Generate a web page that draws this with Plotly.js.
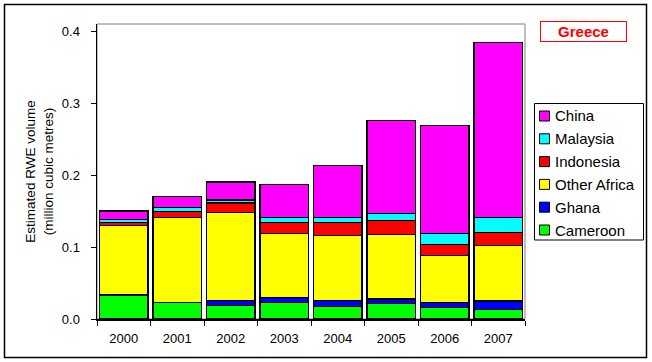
<!DOCTYPE html>
<html>
<head>
<meta charset="utf-8">
<script src="https://cdn.plot.ly/plotly-3.0.1.min.js"></script>
<style>
html,body{margin:0;padding:0;background:#fff;}
#chart{width:652px;height:362px;}
</style>
</head>
<body>
<div id="chart"></div>
<script>
// ---- data ----
const years = ["2000","2001","2002","2003","2004","2005","2006","2007"];
const cameroon    = [0.033, 0.023, 0.019, 0.0227, 0.0176, 0.0218, 0.0162, 0.0134];
const ghana       = [0.000, 0.000, 0.007, 0.0073, 0.0084, 0.0060, 0.0070, 0.0116];
const otherAfrica = [0.097, 0.118, 0.122, 0.089, 0.090, 0.0898, 0.0652, 0.0773];
const indonesia   = [0.004, 0.0086, 0.013, 0.015, 0.018, 0.019, 0.0153, 0.0177];
const malaysia    = [0.0045, 0.0054, 0.004, 0.007, 0.007, 0.0102, 0.0153, 0.021];
const china       = [0.0115, 0.015, 0.025, 0.046, 0.0725, 0.129, 0.150, 0.243];
const seriesNames = ["Cameroon","Ghana","Other Africa","Indonesia","Malaysia","China"];
const seriesColors = ["#00FF00","#0000FF","#FFFF00","#FF0000","#00FFFF","#FF00FF"];
const seriesValues = [cameroon, ghana, otherAfrica, indonesia, malaysia, china];
const yTickVals = [0, 0.1, 0.2, 0.3, 0.4];
const yTickText = ["0.0","0.1","0.2","0.3","0.4"];
const country = "Greece";

// ---- layout geometry (pixels) ----
const W = 652, H = 362;
const mL = 97, mR = 127, mT = 24, mB = 43;
const pw = W - mL - mR, ph = H - mT - mB;
const px = x => (x - mL) / pw;
const py = y => (H - mB - y) / ph;
const FONT = "Liberation Sans, Arial, sans-serif";

const traces = seriesNames.map((name, i) => ({
  type: "bar",
  name: name,
  x: years,
  y: seriesValues[i],
  marker: {color: seriesColors[i], line: {color: "#000", width: 1.5}},
  showlegend: false,
  hoverinfo: "x+y+name"
}));

const shapes = [];
const annotations = [];

// plot area gray border
shapes.push({type:"rect", xref:"paper", yref:"paper", x0:0, x1:1, y0:0, y1:1,
  line:{color:"#808080", width:1}, layer:"below"});
// outer chart frame
shapes.push({type:"rect", xref:"paper", yref:"paper",
  x0:px(4.5), x1:px(646.5), y0:py(357.5), y1:py(4.5),
  line:{color:"#000", width:1.5}});

// manual legend (reverse order: China first)
const legLeft = 534.5, legRight = 643.5, legTop = 103.5, legBottom = 240;
shapes.push({type:"rect", xref:"paper", yref:"paper",
  x0:px(legLeft), x1:px(legRight), y0:py(legBottom), y1:py(legTop),
  line:{color:"#000", width:1}, fillcolor:"#fff"});
const order = seriesNames.map((_, i) => seriesNames.length - 1 - i);
order.forEach((si, k) => {
  const cy = 116 + k * 22.8;
  shapes.push({type:"rect", xref:"paper", yref:"paper",
    x0:px(539.5), x1:px(549.5), y0:py(cy + 5), y1:py(cy - 5),
    line:{color:"#000", width:1}, fillcolor:seriesColors[si]});
  annotations.push({xref:"paper", yref:"paper", x:px(553), y:py(cy),
    xanchor:"left", yanchor:"middle", showarrow:false, text:seriesNames[si],
    font:{family:FONT, size:15, color:"#000"}});
});

// country label box
annotations.push({xref:"paper", yref:"paper", x:px(583.5), y:py(31.7),
  xanchor:"center", yanchor:"middle", showarrow:false, text:"<b>" + country + "</b>",
  font:{family:FONT, size:15, color:"#FF0000"},
  bordercolor:"#FF0000", borderwidth:1, borderpad:2, width:81, height:15});

const layout = {
  width: W, height: H,
  margin: {l: mL, r: mR, t: mT, b: mB, pad: 0},
  paper_bgcolor: "#fff", plot_bgcolor: "#fff",
  barmode: "stack",
  bargap: 0.095,
  font: {family: FONT, size: 13, color: "#000"},
  xaxis: {
    type: "category",
    showline: true, linecolor: "#000", linewidth: 1.5,
    ticks: "outside", ticklen: 5, tickcolor: "#000", tickwidth: 1,
    tickson: "boundaries",
    showgrid: false, zeroline: false,
    tickfont: {family: FONT, size: 13, color: "#000"},
    ticklabelstandoff: 7
  },
  yaxis: {
    range: [0, ph / 720],
    tickvals: yTickVals, ticktext: yTickText,
    showline: true, linecolor: "#000", linewidth: 1.5,
    ticks: "outside", ticklen: 5, tickcolor: "#000", tickwidth: 1,
    showgrid: false, zeroline: false,
    tickfont: {family: FONT, size: 13, color: "#000"},
    ticklabelstandoff: 8,
    title: {text: "Estimated RWE volume<br>(million cubic metres)",
            font: {family: FONT, size: 13.5, color: "#000"}, standoff: 5}
  },
  shapes: shapes,
  annotations: annotations,
  showlegend: false
};

Plotly.newPlot("chart", traces, layout, {displayModeBar: false, staticPlot: true});
</script>
</body>
</html>
